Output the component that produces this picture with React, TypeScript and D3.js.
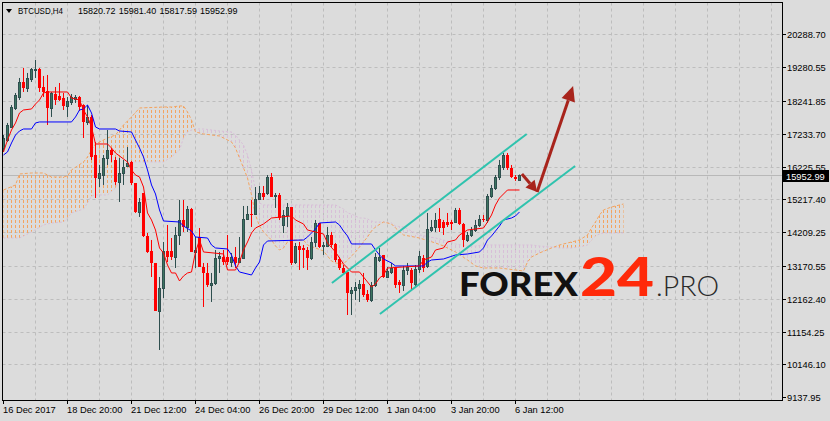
import React from "react";
import * as d3 from "d3";

// ---------- candles (BTCUSD H4), bar index = position ----------
const opens = [
  16796, 17042, 17442, 18025, 18363, 18824, 18639, 18916, 19193, 19224,
  18670, 18547, 18025, 18455, 18394, 18332, 18087, 18210, 18302, 18363,
  18117, 17596, 17749, 16581, 15875, 15967, 16489, 16735, 16428, 15752,
  16029, 16244, 16367, 15721, 14831, 15414, 14093, 13633, 13264, 11789,
  12496, 13633, 13633, 13448, 14124, 14585, 14370, 14923, 13602, 14062,
  13141, 12957, 12588, 12649, 13417, 13448, 13448, 13294, 13448, 13294,
  13417, 14616, 14769, 14769, 15230, 15414, 15414, 15906, 15322, 15353,
  14431, 14738, 14984, 13294, 13786, 13725, 13663, 13417, 13909, 14493,
  13786, 13786, 14124, 13848, 13387, 13110, 12987, 12342, 12434, 12496,
  12619, 12311, 12127, 12588, 13356, 13510, 12833, 12987, 13141, 12680,
  12588, 13049, 13049, 12619, 13079, 13417, 13172, 14277, 14370, 14616,
  14523, 14523, 14523, 14523, 14892, 14462, 13970, 14124, 14277, 14431,
  14616, 14585, 15322, 15568, 15906, 16213, 16581, 16182, 15906, 15820.72,
];
const highs = [
  17195, 17565, 18117, 18486, 18947, 19254, 19101, 19254, 19500, 19254,
  19009, 19039, 18517, 18670, 18793, 18486, 18363, 18455, 18424, 18394,
  18140, 18117, 17810, 16981, 16274, 16581, 17349, 16796, 16520, 16489,
  16428, 16827, 16397, 15721, 15260, 15414, 14185, 13970, 13264, 12833,
  13909, 14431, 14031, 14370, 15199, 15199, 15015, 14954, 14062, 14339,
  13264, 13264, 12957, 13663, 13602, 13663, 14124, 13571, 13755, 14062,
  15015, 15015, 15199, 15598, 15629, 15629, 15967, 16029, 15414, 15414,
  14892, 15107, 14984, 13878, 13909, 13817, 13755, 14062, 14585, 14493,
  13909, 14370, 14216, 13878, 13448, 13202, 12987, 12526, 12680, 12741,
  12957, 12434, 12680, 13571, 13725, 13510, 13141, 13264, 13141, 12741,
  13172, 13264, 13110, 13202, 13633, 13510, 14800, 14585, 14800, 14954,
  14585, 14800, 14585, 14954, 14954, 14493, 14216, 14370, 14585, 14738,
  14738, 15383, 15660, 15967, 16428, 16643, 16643, 16274, 15967, 15981.4,
];
const lows = [
  16674, 16981, 17411, 17964, 18271, 18517, 18517, 18824, 18947, 18517,
  18363, 17503, 17749, 18117, 18240, 17964, 17749, 18117, 18179, 17933,
  17103, 17503, 16428, 15260, 15598, 15660, 16274, 16367, 15660, 15138,
  15660, 16213, 15660, 14800, 14677, 14062, 13571, 12833, 11789, 10591,
  12189, 13294, 13356, 13110, 13817, 14216, 14216, 13602, 13110, 13141,
  11912, 12526, 12066, 12588, 12957, 13202, 13202, 13141, 13110, 13264,
  13387, 14585, 14370, 14738, 15199, 15199, 15353, 15291, 14954, 14585,
  14185, 14370, 13202, 13233, 13049, 13110, 13049, 13356, 13755, 13725,
  13510, 13755, 13755, 13294, 13049, 12895, 11666, 11666, 12127, 12066,
  12219, 12066, 12066, 12526, 13294, 12803, 12803, 12926, 12496, 12342,
  12404, 12895, 12434, 12496, 12957, 12987, 13110, 14216, 14216, 14216,
  14124, 14370, 14277, 14493, 14431, 13755, 13909, 14062, 14216, 14370,
  14523, 14493, 15260, 15506, 15813, 16121, 16121, 15875, 15783, 15817.59,
];
const closes = [
  17103, 17503, 18056, 18424, 18824, 18639, 18947, 19224, 19224, 18639,
  18517, 18025, 18486, 18271, 18271, 18087, 18240, 18363, 18348, 18056,
  17596, 17749, 16520, 15875, 16029, 16489, 16735, 16581, 15752, 16029,
  16213, 16336, 15721, 14831, 15138, 14093, 13602, 13264, 11789, 12496,
  13633, 13448, 13448, 14124, 14585, 14370, 14923, 13602, 13663, 13141,
  12957, 12588, 12649, 13417, 13479, 13294, 13294, 13448, 13264, 13417,
  14616, 14769, 14738, 15230, 15414, 15291, 15906, 15291, 15353, 14646,
  14738, 14984, 13264, 13786, 13663, 13663, 13417, 13909, 14493, 13755,
  13817, 14124, 13817, 13356, 13110, 12957, 12342, 12434, 12526, 12619,
  12281, 12127, 12588, 13448, 13448, 12833, 13018, 13110, 12588, 12588,
  13049, 13141, 12649, 13079, 13479, 13110, 14308, 14370, 14585, 14339,
  14339, 14431, 14462, 14892, 14462, 13970, 14124, 14277, 14431, 14616,
  14585, 15322, 15568, 15906, 16274, 16581, 16182, 15906, 15844, 15952.99,
];

// ---------- Ichimoku: Tenkan-sen (red) ----------
const tenkanBars = [
  0, 1, 2, 3, 4, 5, 7, 8, 9, 10,
  11, 16, 17, 19, 20, 21, 22, 23, 26, 27,
  28, 31, 32, 33, 34, 35, 36, 37, 38, 39,
  40, 41, 42, 43, 44, 45, 46, 47, 48, 49,
  50, 55, 56, 58, 59, 60, 61, 62, 63, 64,
  65, 67, 72, 73, 75, 76, 80, 81, 83, 84,
  85, 87, 89, 90, 91, 92, 93, 94, 95, 96,
  104, 105, 107, 108, 110, 111, 113, 114, 116, 120,
  121, 122, 123, 124, 125, 126, 129,
];
const tenkanVals = [
  16674, 17042, 17349, 17565, 17872, 17964, 17995, 18148, 18271, 18486,
  18517, 18517, 18332, 18271, 17964, 17749, 17442, 16919, 16919, 16796,
  16643, 16367, 16121, 15967, 15906, 15598, 14800, 14585, 14277, 13725,
  13571, 13202, 12957, 12957, 12711, 12864, 12957, 12987, 13602, 13970,
  13602, 13540, 13049, 13049, 13294, 13663, 13909, 14185, 14339, 14400,
  14462, 14646, 14708, 14585, 14462, 14277, 14155, 13878, 13602, 13417,
  13233, 12987, 12987, 12833, 12680, 12526, 12619, 12803, 12895, 13110,
  13172, 13356, 13448, 13663, 13725, 13909, 13970, 14124, 14277, 14339,
  14523, 14738, 15046, 15260, 15383, 15506, 15506,
];

// ---------- Ichimoku: Kijun-sen (blue) ----------
const kijunBars = [
  0, 1, 2, 3, 4, 5, 7, 8, 9, 17,
  18, 19, 20, 21, 22, 23, 24, 28, 29, 32,
  33, 34, 35, 36, 37, 38, 39, 40, 44, 45,
  47, 48, 51, 52, 53, 56, 57, 58, 59, 62,
  63, 64, 65, 66, 75, 76, 78, 79, 83, 84,
  85, 86, 87, 92, 93, 94, 95, 97, 98, 105,
  106, 107, 110, 113, 116, 119, 120, 121, 122, 124,
  125, 127, 128, 129,
];
const kijunVals = [
  16581, 16674, 16950, 17195, 17319, 17380, 17380, 17565, 17596, 17596,
  17749, 17964, 17995, 18117, 17872, 17442, 17380, 17380, 17319, 17288,
  17042, 16796, 16520, 16121, 15660, 15383, 14892, 14554, 14523, 14400,
  14247, 14062, 14031, 13817, 13725, 13694, 13510, 13172, 12987, 12895,
  13110, 13294, 13817, 13940, 13970, 14062, 14308, 14493, 14523, 14431,
  14247, 14093, 13848, 13848, 13663, 13510, 13387, 13264, 13172, 13172,
  13294, 13356, 13387, 13510, 13540, 13602, 13725, 13970, 14093, 14400,
  14585, 14646, 14708, 14831,
];

// ---------- Ichimoku cloud: Senkou Span A (sandy) and B (thistle) ----------
const cloudBars = [
  0, 3, 4, 7, 10, 12, 15, 16, 17, 20,
  21, 22, 23, 26, 28, 29, 30, 32, 34, 40,
  42, 44, 45, 46, 47, 48, 50, 54, 57, 58,
  59, 60, 61, 62, 63, 64, 65, 66, 67, 68,
  69, 70, 71, 72, 75, 76, 78, 80, 81, 82,
  83, 85, 86, 87, 88, 89, 90, 91, 92, 93,
  95, 97, 98, 100, 104, 108, 110, 113, 116, 118,
  120, 124, 128, 130, 131, 132, 134, 137, 139, 142,
  144, 146, 147, 148, 149, 150, 152, 155,
];
const spanA = [
  15506, 15660, 15998, 16029, 16029, 15906, 15906, 15936, 16121, 16367,
  16520, 16735, 16919, 17103, 17195, 17349, 17503, 17749, 18025, 18056,
  18056, 18087, 18087, 17902, 17657, 17288, 17227, 17165, 16981, 16796,
  16489, 16182, 15875, 15353, 14738, 14400, 14216, 14093, 13970, 13786,
  13663, 13725, 13909, 13970, 13970, 13817, 13725, 13633, 13479, 13325,
  13264, 13233, 13356, 13479, 13602, 13755, 13909, 14062, 14247, 14370,
  14523, 14462, 14339, 14124, 14031, 13878, 13786, 13602, 13356, 13172,
  13110, 13110, 13049, 13018, 13294, 13448, 13571, 13725, 13817, 13909,
  13970, 14124, 14339, 14523, 14738, 14892, 14984, 15076,
];
const spanB = [
  14031, 14031, 14031, 14216, 14431, 14493, 14523, 14646, 14800, 14923,
  15107, 15322, 15353, 15353, 15568, 15813, 15967, 16367, 16367, 16367,
  16520, 16735, 17103, 17288, 17349, 17380, 17380, 17319, 17288, 17195,
  17042, 16889, 16581, 16121, 15506, 15107, 15046, 15046, 15046, 15046,
  15046, 15046, 15046, 15046, 15046, 15046, 15046, 15046, 15046, 15046,
  15046, 14923, 14800, 14769, 14708, 14646, 14646, 14616, 14554, 14523,
  14523, 14493, 14400, 14370, 14124, 14031, 13970, 13848, 13786, 13786,
  13817, 13817, 13817, 13817, 13817, 13817, 13786, 13755, 13725, 13725,
  13755, 13817, 13970, 14093, 14155, 14185, 14185, 14185,
];

// ---------- axes ----------
const priceTicks = [
  20288.7, 19280.55, 18241.85, 17233.7, 16225.55, 15217.4,
  14209.25, 13170.55, 12162.4, 11154.25, 10146.1, 9137.95,
];
const priceTickLabels = [
  "20288.70", "19280.55", "18241.85", "17233.70", "16225.55", "15217.40",
  "14209.25", "13170.55", "12162.40", "11154.25", "10146.10", "9137.95",
];
const timeTickBars = [0, 16, 32, 48, 64, 80, 96, 112, 128];
const timeTickLabels = [
  "16 Dec 2017", "18 Dec 20:00", "21 Dec 12:00", "24 Dec 04:00", "26 Dec 20:00",
  "29 Dec 12:00", "1 Jan 04:00", "3 Jan 20:00", "6 Jan 12:00",
];
const lastPrice = 15952.99;
const headerSymbol = "BTCUSD,H4";
const headerValues = ["15820.72", "15981.40", "15817.59", "15952.99"];

// ---------- drawn objects (bar index, price) ----------
const channelUpperBars = [82.1, 130.8];
const channelUpperPrices = [12649, 17227];
const channelLowerBars = [94.1, 142.9];
const channelLowerPrices = [11697, 16244];
const arrowSmallBars = [129.6, 133.4];
const arrowSmallPrices = [16000, 15445];
const arrowBigBars = [133.4, 142.4];
const arrowBigPrices = [15445, 18701];

export default function App() {
  const x = d3.scaleLinear().domain([0, 155]).range([3.5, 623.5]);
  const y = d3.scaleLinear().domain([9137.95, 20288.7]).range([397.3, 34.3]);
  const crisp = (v: number) => Math.round(v) + 0.5;

  const plotL = 2.5, plotR = 782.5, plotT = 2.5, plotB = 400.5;
  const gridBars = d3.range(8, 195, 8);

  const idx = d3.range(cloudBars.length);
  const yA = spanA.map((v) => y(v));
  const yB = spanB.map((v) => y(v));
  const areaA = d3
    .area<number>()
    .x((i) => x(cloudBars[i]))
    .y1((i) => yA[i])
    .y0((i) => Math.max(yA[i], yB[i]));
  const areaB = d3
    .area<number>()
    .x((i) => x(cloudBars[i]))
    .y1((i) => yB[i])
    .y0((i) => Math.max(yA[i], yB[i]));
  const lineIdx = (bars: number[], vals: number[]) =>
    d3
      .line<number>()
      .x((i) => x(bars[i]))
      .y((i) => y(vals[i]))(d3.range(bars.length)) || "";

  const arrow = (bars: number[], prices: number[], len: number, half: number) => {
    const x1 = x(bars[0]), y1 = y(prices[0]), x2 = x(bars[1]), y2 = y(prices[1]);
    const a = Math.atan2(y2 - y1, x2 - x1);
    const bx = x2 - len * Math.cos(a), by = y2 - len * Math.sin(a);
    const nx = -Math.sin(a), ny = Math.cos(a);
    return {
      line: { x1, y1, x2: bx, y2: by },
      head: `${x2},${y2} ${bx + half * nx},${by + half * ny} ${bx - half * nx},${by - half * ny}`,
    };
  };
  const aSmall = arrow(arrowSmallBars, arrowSmallPrices, 11, 6);
  const aBig = arrow(arrowBigBars, arrowBigPrices, 15, 7);
  const arrowColor = "#a8241c";

  const ly = y(lastPrice);
  const axisFont = "'Liberation Sans', Arial, sans-serif";

  return (
    <svg
      width={830}
      height={421}
      style={{ position: "absolute", left: 0, top: 0, background: "#dcdcdc" }}
    >
      <defs>
        <pattern id="hatchA" patternUnits="userSpaceOnUse" x={3} y={0} width={4} height={5}>
          <rect x={0} y={0} width={1} height={3} fill="#f4a460" />
        </pattern>
        <pattern id="hatchB" patternUnits="userSpaceOnUse" x={3} y={0} width={4} height={5}>
          <rect x={0} y={0} width={1} height={3} fill="#d8bfd8" />
        </pattern>
        <clipPath id="plotClip">
          <rect x={plotL + 0.5} y={plotT + 0.5} width={plotR - plotL - 1} height={plotB - plotT - 1} />
        </clipPath>
      </defs>
      <rect x={0} y={0} width={830} height={421} fill="#dcdcdc" />

      {/* grid */}
      <g stroke="#bdbdbd" strokeDasharray="3,3" strokeWidth={1}>
        {priceTicks.slice(0, priceTicks.length - 1).map((p, i) => (
          <line key={"h" + i} x1={plotL} x2={plotR} y1={crisp(y(p))} y2={crisp(y(p))} />
        ))}
        {gridBars.map((b) => (
          <line key={"v" + b} x1={x(b)} x2={x(b)} y1={plotT} y2={plotB} />
        ))}
      </g>

      <g clipPath="url(#plotClip)">
        {/* current price line */}
        <line x1={plotL} x2={plotR} y1={crisp(ly)} y2={crisp(ly)} stroke="#b8b8b8" />

        {/* cloud */}
        <path d={areaA(idx) || ""} fill="url(#hatchA)" />
        <path d={areaB(idx) || ""} fill="url(#hatchB)" />
        <path d={lineIdx(cloudBars, spanB)} fill="none" stroke="#d8bfd8" strokeDasharray="2,2" />
        <path d={lineIdx(cloudBars, spanA)} fill="none" stroke="#f4a460" strokeDasharray="3,2" />

        {/* candles */}
        {opens.map((o, i) => {
          const c = closes[i], h = highs[i], l = lows[i];
          const xc = x(i);
          const bull = c >= o;
          const yt = Math.round(y(Math.max(o, c)));
          const yb = Math.round(y(Math.min(o, c)));
          if (bull) {
            return (
              <g key={i}>
                <line x1={xc} x2={xc} y1={y(h)} y2={y(l)} stroke="#2f4f4f" />
                <rect
                  x={xc - 1}
                  y={yt + 0.5}
                  width={2}
                  height={Math.max(yb - yt, 0)}
                  fill="#3d7560"
                  stroke="#2f4f4f"
                />
              </g>
            );
          }
          return (
            <g key={i}>
              <line x1={xc} x2={xc} y1={y(h)} y2={y(l)} stroke="#ff0000" />
              <rect x={xc - 1.5} y={yt} width={3} height={Math.max(yb - yt, 1)} fill="#ff0000" />
            </g>
          );
        })}

        {/* tenkan / kijun */}
        <path d={lineIdx(kijunBars, kijunVals)} fill="none" stroke="#0000ff" strokeWidth={1} />
        <path d={lineIdx(tenkanBars, tenkanVals)} fill="none" stroke="#ff0000" strokeWidth={1} />

        {/* channel */}
        <path d={lineIdx(channelUpperBars, channelUpperPrices)} stroke="#2fc3ae" strokeWidth={2} fill="none" />
        <path d={lineIdx(channelLowerBars, channelLowerPrices)} stroke="#2fc3ae" strokeWidth={2} fill="none" />

        {/* arrows */}
        <line {...aSmall.line} stroke={arrowColor} strokeWidth={3} />
        <polygon points={aSmall.head} fill={arrowColor} />
        <line {...aBig.line} stroke={arrowColor} strokeWidth={3} />
        <polygon points={aBig.head} fill={arrowColor} />
      </g>

      {/* logo */}
      <g>
        <text
          x={459}
          y={296}
          fontFamily="Lato, 'Open Sans', Roboto, sans-serif"
          fontWeight={900}
          fontSize={33}
          fill="#111111"
          textLength={119}
          lengthAdjust="spacingAndGlyphs"
        >
          FOREX
        </text>
        <text
          x={580}
          y={296}
          fontFamily="Lato, 'Open Sans', Roboto, sans-serif"
          fontWeight={900}
          fontSize={54}
          fill="#ff2a0a"
          textLength={74}
          lengthAdjust="spacingAndGlyphs"
        >
          24
        </text>
        <text
          x={656}
          y={296}
          fontFamily="Lato, 'Open Sans', Roboto, sans-serif"
          fontWeight={300}
          fontSize={28}
          fill="#2a2a2a"
          textLength={63}
          lengthAdjust="spacingAndGlyphs"
        >
          .PRO
        </text>
      </g>

      {/* frame */}
      <rect x={plotL} y={plotT} width={plotR - plotL} height={plotB - plotT} fill="none" stroke="#000" />

      {/* price axis */}
      <g fontFamily={axisFont} fontSize={9.3} fill="#000">
        {priceTicks.map((p, i) => {
          const ty = crisp(y(p));
          return (
            <g key={"pt" + i}>
              <line x1={plotR} x2={786} y1={ty} y2={ty} stroke="#000" />
              <text x={787} y={ty + 3.5}>
                {priceTickLabels[i]}
              </text>
            </g>
          );
        })}
      </g>
      <rect x={783} y={Math.round(ly) - 5} width={46} height={12} fill="#000" />
      <text x={786} y={Math.round(ly) + 4.5} fontFamily={axisFont} fontSize={9.3} fill="#fff">
        {lastPrice.toFixed(2)}
      </text>

      {/* time axis */}
      <g fontFamily={axisFont} fontSize={9.3} fill="#000">
        {timeTickBars.map((b, i) => (
          <g key={"tt" + i}>
            <line x1={x(b)} x2={x(b)} y1={plotB} y2={404} stroke="#000" />
            <text x={x(b) - 0.5} y={413}>
              {timeTickLabels[i]}
            </text>
          </g>
        ))}
      </g>

      {/* header */}
      <polygon points="6,9 12,9 9,13" fill="#000" />
      <g fontFamily={axisFont} fontSize={9.3} fill="#000">
        <text x={18} y={13.5} textLength={45} lengthAdjust="spacingAndGlyphs">
          {headerSymbol}
        </text>
        {headerValues.map((v, i) => (
          <text
            key={"hv" + i}
            x={78 + i * 40.7}
            y={13.5}
            textLength={37.5}
            lengthAdjust="spacingAndGlyphs"
          >
            {v}
          </text>
        ))}
      </g>
    </svg>
  );
}
